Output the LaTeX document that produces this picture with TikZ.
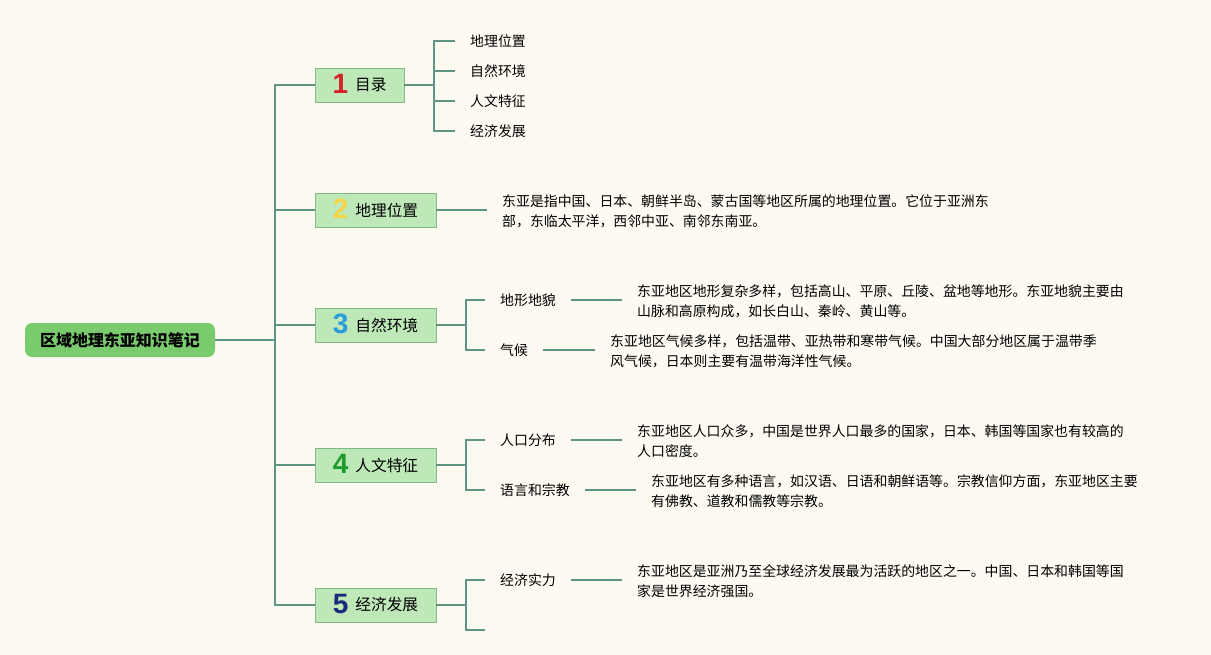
\documentclass[tikz,border=0pt]{standalone}
\usepackage{fontspec}
\setmainfont{Noto Sans CJK SC}
\newfontfamily\numfont{Liberation Sans}
\definecolor{bgc}{HTML}{FDFBF1}
\definecolor{rootg}{HTML}{7ACB6E}
\definecolor{topfill}{HTML}{BEE8B8}
\definecolor{topdraw}{HTML}{7DB98A}
\definecolor{connc}{HTML}{5F9585}
\definecolor{nA}{HTML}{D6202A}
\definecolor{nB}{HTML}{F5D547}
\definecolor{nC}{HTML}{2A9BDB}
\definecolor{nD}{HTML}{1E9A2E}
\definecolor{nE}{HTML}{1A2A7A}
\newcommand{\numd}[2]{\smash{\raisebox{-2.5pt}{\numfont\bfseries\fontsize{28}{28}\selectfont\color{#1}#2}}\hspace{7pt}}
\tikzset{
  rootbox/.style={rounded corners=7pt, fill=rootg, minimum width=190pt, minimum height=34pt, inner sep=0pt, font=\fontsize{16}{20}\selectfont\bfseries},
  topicbox/.style={draw=topdraw, fill=topfill, line width=0.9pt, minimum height=34pt, inner sep=0pt, font=\fontsize{15.7}{20}\selectfont},
  leafnode/.style={anchor=west, inner xsep=15pt, inner ysep=0pt, font=\fontsize{13.9}{20}\selectfont},
  descnode/.style={anchor=west, align=left, inner xsep=15pt, inner ysep=0pt, font=\fontsize{13.9}{20}\selectfont},
  conn/.style={draw=connc, line width=2pt}
}
\begin{document}
\begin{tikzpicture}[x=1pt,y=-1pt]
\fill[bgc] (0,0) rectangle (1211,655);
\useasboundingbox (0,0) rectangle (1211,655);

\node[rootbox] (root) at (120,340) {区域地理东亚知识笔记};
\coordinate (tk) at (275,340);

\node[topicbox, minimum width=89pt] (b1) at (359.5,85) {\numd{nA}{1}目录};
\node[topicbox, minimum width=121pt] (b2) at (375.5,210) {\numd{nB}{2}地理位置};
\node[topicbox, minimum width=121pt] (b3) at (375.5,325) {\numd{nC}{3}自然环境};
\node[topicbox, minimum width=121pt] (b4) at (375.5,465) {\numd{nD}{4}人文特征};
\node[topicbox, minimum width=121pt] (b5) at (375.5,605) {\numd{nE}{5}经济发展};

\draw[conn] (root.east) -- (tk);
\foreach \b in {b1,b2,b3,b4,b5} { \draw[conn] (tk) |- (\b.west); }

% branch 1
\coordinate (j1) at (434,85);
\node[leafnode] (l11) at (455,41) {地理位置};
\node[leafnode] (l12) at (455,71) {自然环境};
\node[leafnode] (l13) at (455,101) {人文特征};
\node[leafnode] (l14) at (455,131) {经济发展};
\draw[conn] (b1.east) -- (j1);
\foreach \l in {l11,l12,l13,l14} { \draw[conn] (j1) |- (\l.west); }

% branch 2
\node[descnode] (d2) at (487,211) {东亚是指中国、日本、朝鲜半岛、蒙古国等地区所属的地理位置。它位于亚洲东\\部，东临太平洋，西邻中亚、南邻东南亚。};
\draw[conn] (b2.east) -- (b2.east -| d2.west);

% branch 3
\coordinate (j3) at (466,325);
\node[leafnode] (l31) at (485,300) {地形地貌};
\node[leafnode] (l32) at (485,350) {气候};
\node[descnode] (d31) at (622,301) {东亚地区地形复杂多样，包括高山、平原、丘陵、盆地等地形。东亚地貌主要由\\山脉和高原构成，如长白山、秦岭、黄山等。};
\node[descnode] (d32) at (595,351) {东亚地区气候多样，包括温带、亚热带和寒带气候。中国大部分地区属于温带季\\风气候，日本则主要有温带海洋性气候。};
\draw[conn] (b3.east) -- (j3);
\draw[conn] (j3) |- (l31.west);
\draw[conn] (j3) |- (l32.west);
\draw[conn] (l31.east) -- (l31.east -| d31.west);
\draw[conn] (l32.east) -- (l32.east -| d32.west);

% branch 4
\coordinate (j4) at (466,465);
\node[leafnode] (l41) at (485,440) {人口分布};
\node[leafnode] (l42) at (485,490) {语言和宗教};
\node[descnode] (d41) at (622,441) {东亚地区人口众多，中国是世界人口最多的国家，日本、韩国等国家也有较高的\\人口密度。};
\node[descnode] (d42) at (636,491) {东亚地区有多种语言，如汉语、日语和朝鲜语等。宗教信仰方面，东亚地区主要\\有佛教、道教和儒教等宗教。};
\draw[conn] (b4.east) -- (j4);
\draw[conn] (j4) |- (l41.west);
\draw[conn] (j4) |- (l42.west);
\draw[conn] (l41.east) -- (l41.east -| d41.west);
\draw[conn] (l42.east) -- (l42.east -| d42.west);

% branch 5
\coordinate (j5) at (466,605);
\node[leafnode] (l51) at (485,580) {经济实力};
\coordinate (e52) at (485,630);
\node[descnode] (d51) at (622,581) {东亚地区是亚洲乃至全球经济发展最为活跃的地区之一。中国、日本和韩国等国\\家是世界经济强国。};
\draw[conn] (b5.east) -- (j5);
\draw[conn] (j5) |- (l51.west);
\draw[conn] (j5) |- (e52);
\draw[conn] (l51.east) -- (l51.east -| d51.west);
\end{tikzpicture}
\end{document}
